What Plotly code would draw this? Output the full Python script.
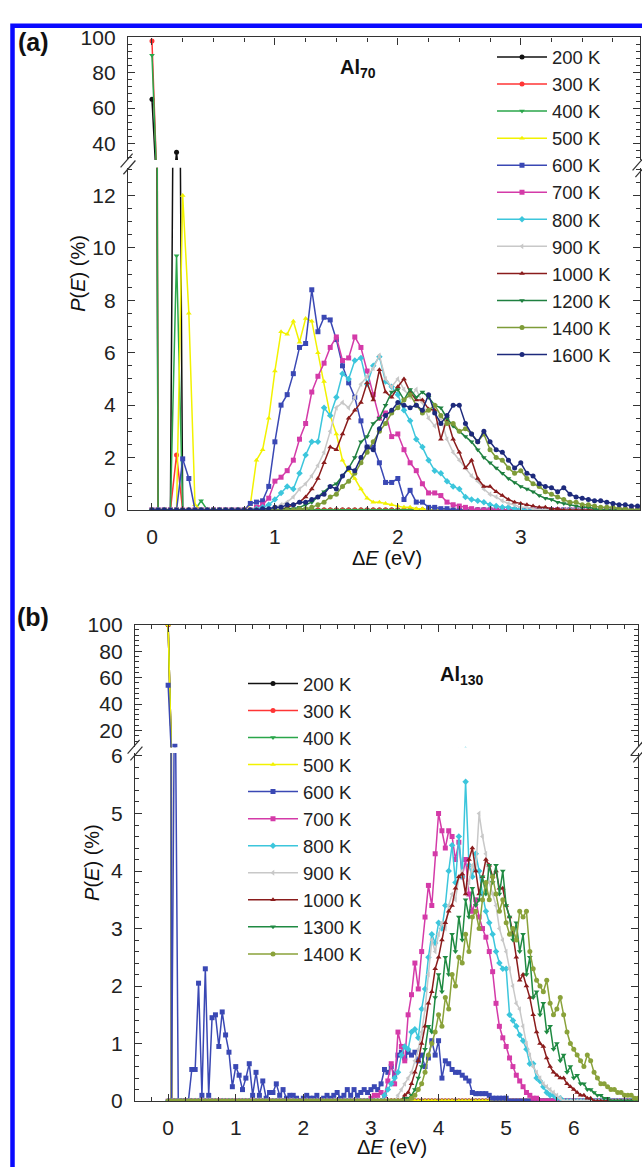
import plotly.graph_objects as go

W, H = 642, 1167

# ---------------- data: panel (a) Al70, dE grid 0..4 eV step 0.05 ----------------
a_x = [round(i * 0.05, 2) for i in range(81)]
a_labels = ["200 K", "300 K", "400 K", "500 K", "600 K", "700 K", "800 K",
            "900 K", "1000 K", "1200 K", "1400 K", "1600 K"]
# (start index, values) pieces; all other grid points are 0
a_200 = [(0, [65, 0, 0, 0, 35])]
a_300 = [(0, [98, 0, 0, 0, 2.1])]
a_400 = [(0, [90, 0, 0, 0, 9.7, 0, 0, 0, 0.35])]
a_500 = [(5, [12.0, 7.5, 0.2]),
         (16, [0.2, 1.9, 2.3, 3.5, 5.3, 6.8, 6.7, 7.2, 6.4, 7.3, 7.2, 6.0, 4.9, 3.6, 2.9,
               1.9, 1.5, 1.2, 0.8, 0.45, 0.3, 0.3, 0.25, 0.2, 0.15, 0.1, 0.1, 0.05, 0.05])]
a_600 = [(5, [1.95, 1.2]),
         (16, [0.25, 0.3, 0.35, 0.9, 2.6, 4.0, 4.4, 5.2, 6.2, 6.35, 8.4, 6.8, 7.35, 7.25,
               6.5, 5.5, 4.85, 4.3, 3.4, 2.4, 2.4, 1.8, 1.05, 1.05, 1.2, 0.4, 0.75, 0.3,
               0.3, 0.1, 0.1, 0.05, 0.05])]
a_700 = [(17, [0.1, 0.2, 0.45, 1.1, 1.25, 1.5, 1.9, 2.7, 3.3, 4.5, 5.1, 5.6, 6.2, 6.6,
               5.7, 5.8, 6.6, 6.2, 5.3, 4.4, 3.5, 3.7, 2.8, 2.9, 2.3, 1.8, 1.5, 1.0, 0.65,
               0.65, 0.55, 0.3, 0.2, 0.15, 0.1, 0.05])]
a_800 = [(17, [0.05, 0.1, 0.2, 0.4, 0.65, 0.9, 0.8, 1.4, 2.1, 2.6, 2.6, 3.9, 3.6, 4.3,
               5.2, 5.0, 5.7, 5.8, 4.8, 5.5, 5.85, 4.9, 4.7, 4.4, 3.8, 3.4, 2.7, 2.4, 1.9,
               1.5, 1.4, 1.1, 0.9, 0.8, 0.5, 0.4, 0.35, 0.3, 0.2, 0.15, 0.1, 0.1, 0.05,
               0.05])]
a_900 = [(20, [0.1, 0.2, 0.3, 0.5, 0.8, 1.0, 1.3, 1.7, 2.2, 3.0, 3.9, 4.1, 3.9, 4.3, 4.8,
               5.1, 5.4, 5.9, 5.0, 4.7, 5.0, 4.6, 4.3, 4.6, 4.1, 3.5, 3.2, 3.5, 2.7, 2.2,
               1.9, 1.6, 1.3, 1.1, 0.8, 0.6, 0.5, 0.35, 0.25, 0.2, 0.1, 0.1, 0.05])]
a_1000 = [(22, [0.1, 0.2, 0.3, 0.5, 0.8, 1.2, 1.8, 2.4, 2.3, 2.9, 3.5, 3.8, 4.1, 4.85,
                4.2, 5.35, 4.5, 4.3, 4.7, 5.0, 4.5, 4.2, 4.2, 3.85, 3.8, 2.7, 3.5, 2.7,
                2.2, 1.6, 1.9, 1.2, 0.9, 0.9, 0.7, 0.55, 0.4, 0.3, 0.25, 0.2, 0.15, 0.1,
                0.1, 0.05, 0.05])]
a_1200 = [(22, [0.05, 0.05, 0.1, 0.2, 0.3, 0.5, 0.7, 0.9, 1.0, 1.3, 1.6, 2.0, 2.6, 2.8,
                3.3, 3.5, 4.0, 4.5, 4.6, 4.2, 4.6, 4.3, 4.5, 4.3, 4.0, 3.9, 3.5, 3.2, 3.0,
                2.8, 2.6, 2.3, 2.0, 1.8, 1.6, 1.4, 1.2, 1.05, 0.9, 0.8, 0.7, 0.55, 0.45,
                0.4, 0.3, 0.25, 0.2, 0.15, 0.1, 0.1, 0.05])]
a_1400 = [(24, [0.05, 0.05, 0.1, 0.2, 0.3, 0.5, 0.6, 0.9, 1.1, 1.4, 1.8, 2.2, 2.6, 3.0,
                3.3, 3.7, 3.9, 4.2, 4.4, 4.0, 3.7, 3.8, 4.0, 3.6, 3.3, 3.3, 3.0, 3.1, 2.9,
                2.6, 2.9, 2.3, 2.0, 1.9, 1.6, 1.4, 1.5, 1.2, 1.0, 0.9, 0.7, 0.6, 0.5, 0.4,
                0.3, 0.3, 0.2, 0.2, 0.15, 0.1, 0.1, 0.1, 0.05, 0.05])]
a_1600 = [(18, [0.05, 0.05, 0.1, 0.1, 0.2, 0.2, 0.3, 0.3, 0.4, 0.5, 0.6, 0.9, 0.8, 1.3,
                1.6, 1.5, 2.0, 2.4, 2.3, 3.1, 3.6, 3.8, 4.1, 4.0, 3.9, 4.0, 3.8, 4.4, 3.7,
                3.3, 3.6, 4.0, 4.0, 3.3, 2.9, 2.6, 3.0, 2.6, 2.3, 2.2, 1.9, 1.6, 1.8, 1.4,
                1.3, 1.0, 0.9, 0.85, 0.7, 0.85, 0.6, 0.5, 0.45, 0.4, 0.35, 0.35, 0.3, 0.25,
                0.2, 0.2, 0.15, 0.15, 0.1])]
a_series = [a_200, a_300, a_400, a_500, a_600, a_700, a_800, a_900, a_1000, a_1200,
            a_1400, a_1600]

# ---------------- data: panel (b) Al130, dE grid 0..7 eV step 0.05 ----------------
b_x = [round(i * 0.05, 2) for i in range(141)]
b_labels = ["200 K", "300 K", "400 K", "500 K", "600 K", "700 K", "800 K",
            "900 K", "1000 K", "1300 K", "1400 K"]
b_200 = [(0, [100])]
b_300 = [(0, [100])]
b_400 = [(0, [100])]
b_500 = [(0, [100])]
b_600 = [(0, [54.3, 0, 8.1]),
         (7, [0.55, 0.55, 2.05, 0.1, 2.3, 0.1, 1.45, 1.5, 0.95, 1.55, 1.15, 0.85, 0.25,
              0.6, 0.45, 0.2, 0.4, 0.65, 0.1, 0.5, 0.1, 0.35, 0.05, 0.15, 0.15, 0.3, 0.1,
              0.2, 0.05, 0.1, 0.1, 0.05, 0.0, 0.05, 0.1, 0.05, 0.05, 0.1, 0.0, 0.05, 0.1,
              0.05, 0.1, 0.15, 0.05, 0.1, 0.2, 0.1, 0.2, 0.1, 0.15, 0.2, 0.15, 0.2, 0.25,
              0.2, 0.3, 0.55, 0.5, 0.6, 0.45, 0.8, 0.85, 0.75, 0.85, 0.8, 0.85, 0.7, 0.8,
              0.6, 0.75, 1.05, 0.8, 1.05, 0.4, 0.7, 0.65, 0.55, 0.5, 0.5, 0.45, 0.4, 0.35,
              0.15, 0.13, 0.13, 0.13, 0.13, 0.1, 0.05, 0.05, 0.05, 0.05, 0.05])]
b_700 = [(60, [0.05, 0.1, 0.1, 0.15, 0.1, 0.35, 0.65, 0.3, 1.2, 0.95, 0.7, 1.5, 1.85,
               2.4, 1.95, 2.6, 3.2, 3.75, 3.4, 4.3, 5.0, 4.7, 4.4, 4.7, 4.6, 4.2, 4.5, 3.9,
               4.2, 3.6, 3.3, 3.5, 3.2, 3.0, 2.85, 2.6, 2.25, 1.7, 1.3, 1.1, 0.95, 0.75,
               0.6, 0.45, 0.35, 0.25, 0.15, 0.1, 0.05, 0.05])]
b_800 = [(64, [0.1, 0.2, 0.3, 0.4, 0.5, 0.8, 0.95, 0.9, 1.2, 1.25, 1.1, 1.6, 1.95, 2.5,
               2.9, 2.75, 3.1, 3.0, 3.4, 4.0, 4.45, 3.8, 4.6, 3.9, 5.55, 4.1, 3.9, 4.3,
               4.0, 3.6, 3.3, 3.1, 2.9, 2.6, 2.4, 2.3, 2.3, 1.5, 1.4, 1.3, 1.15, 1.05, 0.9,
               0.65, 0.65, 0.4, 0.35, 0.25, 0.15, 0.1, 0.1, 0.05, 0.05])]
b_900 = [(68, [0.1, 0.2, 0.3, 0.4, 0.5, 0.7, 0.9, 1.2, 1.6, 2.2, 2.8, 2.6, 2.9, 3.1, 3.0,
               3.4, 3.6, 3.5, 3.9, 4.0, 3.6, 3.8, 4.1, 4.0, 5.0, 4.6, 4.3, 3.8, 3.6, 3.4,
               3.0, 2.8, 2.6, 2.3, 2.0, 1.7, 1.6, 1.3, 1.0, 0.8, 0.6, 0.5, 0.4, 0.3, 0.25,
               0.2, 0.15, 0.1, 0.05])]
b_1000 = [(70, [0.1, 0.15, 0.3, 0.5, 0.7, 1.0, 1.3, 1.7, 1.9, 2.3, 2.5, 2.8, 3.1, 3.3,
                3.4, 3.7, 3.9, 3.95, 3.6, 4.2, 4.4, 4.0, 3.6, 3.9, 4.2, 4.1, 3.9, 4.0, 3.7,
                3.7, 3.4, 3.2, 2.9, 2.5, 2.1, 2.2, 2.0, 1.8, 1.5, 1.2, 1.0, 0.95, 0.75,
                0.6, 0.5, 0.45, 0.4, 0.4, 0.3, 0.25, 0.2, 0.15, 0.1, 0.1, 0.05, 0.05])]
b_1300 = [(70, [0.05, 0.05, 0.1, 0.2, 0.4, 0.6, 0.9, 1.3, 1.2, 1.8, 2.2, 1.9, 2.5, 2.2,
                2.9, 2.6, 3.2, 2.8, 3.5, 3.2, 3.7, 3.4, 3.5, 3.9, 3.6, 4.1, 3.8, 4.1, 3.6,
                4.0, 3.4, 3.2, 2.8, 3.1, 2.6, 2.9, 2.2, 2.5, 1.8, 1.9, 1.5, 1.7, 1.2, 1.3,
                0.9, 1.0, 0.7, 0.8, 0.5, 0.6, 0.4, 0.45, 0.3, 0.3, 0.2, 0.2, 0.15, 0.1,
                0.1, 0.05, 0.05])]
b_1400 = [(72, [0.05, 0.1, 0.2, 0.3, 0.5, 0.8, 1.0, 1.2, 1.5, 1.3, 1.8, 1.6, 2.2, 2.0,
                2.5, 2.4, 2.9, 2.6, 3.2, 3.3, 3.0, 3.5, 3.8, 3.5, 3.9, 3.6, 3.3, 3.5, 3.1,
                2.9, 3.0, 2.8, 3.3, 3.2, 3.3, 2.6, 2.3, 2.1, 2.0, 1.9, 2.1, 1.7, 1.5, 1.6,
                1.8, 1.5, 1.2, 1.0, 0.9, 0.8, 0.7, 0.6, 0.8, 0.7, 0.5, 0.4, 0.3, 0.3, 0.25,
                0.2, 0.2, 0.15, 0.15, 0.1, 0.1, 0.1, 0.05, 0.05, 0.05])]
b_series = [b_200, b_300, b_400, b_500, b_600, b_700, b_800, b_900, b_1000, b_1300,
            b_1400]

# ---------------- styles ----------------
a_colors = ["#111111", "#ff3535", "#2aa64a", "#f2f200", "#3a48b4", "#d43aa8", "#3cc6dc",
            "#c8c8c8", "#8a1c1c", "#1f8040", "#7e9c38", "#1d2a7c"]
a_symbols = ["circle", "circle", "triangle-down", "triangle-up", "square", "square",
             "diamond", "triangle-left", "triangle-up", "triangle-down", "circle", "circle"]
b_colors = ["#111111", "#ff3535", "#2aa64a", "#f2f200", "#3a48b4", "#d43aa8", "#3cc6dc",
            "#c8c8c8", "#8a1c1c", "#1f8a42", "#8aa23a"]
b_symbols = ["circle", "circle", "triangle-down", "triangle-up", "square", "square",
             "diamond", "triangle-left", "triangle-up", "triangle-down", "circle"]


def build(n, pieces):
    vals = [0.0] * n
    for start, seg in pieces:
        for k, v in enumerate(seg):
            if start + k < n:
                vals[start + k] = v
    return vals


def px(xp):
    return xp / W


def py(yp):
    return 1 - yp / H


FONT = "Liberation Sans, Arial, sans-serif"
fig = go.Figure()

for lab, pieces, col, sym in zip(a_labels, a_series, a_colors, a_symbols):
    yv = build(len(a_x), pieces)
    common = dict(x=a_x, y=yv, mode="lines+markers", name=lab,
                  line=dict(color=col, width=1.5),
                  marker=dict(color=col, symbol=sym, size=5))
    fig.add_trace(go.Scatter(xaxis="x", yaxis="y", legend="legend", **common))
    fig.add_trace(go.Scatter(xaxis="x2", yaxis="y2", showlegend=False, **common))

for lab, pieces, col, sym in zip(b_labels, b_series, b_colors, b_symbols):
    yv = build(len(b_x), pieces)
    common = dict(x=b_x, y=yv, mode="lines+markers", name=lab,
                  line=dict(color=col, width=1.5),
                  marker=dict(color=col, symbol=sym, size=5))
    fig.add_trace(go.Scatter(xaxis="x3", yaxis="y3", legend="legend2", **common))
    fig.add_trace(go.Scatter(xaxis="x4", yaxis="y4", showlegend=False, **common))

axis_base = dict(showline=True, linecolor="#333333", linewidth=1.3, ticks="inside",
                 tickcolor="#333333", ticklen=7, tickwidth=1.3, showgrid=False,
                 zeroline=False, tickfont=dict(family=FONT, size=21, color="#222222"))


def minor(d):
    return dict(dtick=d, ticks="inside", ticklen=4, tickcolor="#333333", tickwidth=1,
                showgrid=False)


a_xdom = [px(128), px(640)]
b_xdom = [px(135), px(638)]
a_xr = [-0.195, 3.97]
b_xr = [-0.49, 6.95]

fig.update_layout(
    width=W, height=H, autosize=False,
    margin=dict(l=0, r=0, t=0, b=0),
    paper_bgcolor="white", plot_bgcolor="white",
    showlegend=True,
    font=dict(family=FONT, color="#222222"),
    xaxis=dict(axis_base, domain=a_xdom, range=a_xr, anchor="y", dtick=1, tick0=0,
               minor=minor(0.25), ticklabelstandoff=8),
    yaxis=dict(axis_base, domain=[py(508), py(159)], range=[0, 13.05], anchor="x",
               dtick=2, tick0=0, minor=minor(0.5), mirror="ticks", ticklabelstandoff=7),
    xaxis2=dict(axis_base, domain=a_xdom, range=a_xr, anchor="y2", side="top",
                showticklabels=False, dtick=1, tick0=0, minor=minor(0.25)),
    yaxis2=dict(axis_base, domain=[py(151), py(26)], range=[30.6, 100], anchor="x2",
                dtick=20, tick0=0, minor=minor(4), mirror="ticks", ticklabelstandoff=7),
    xaxis3=dict(axis_base, domain=b_xdom, range=b_xr, anchor="y3", dtick=1, tick0=0,
                minor=minor(0.25), ticklabelstandoff=8),
    yaxis3=dict(axis_base, domain=[py(1111), py(756)], range=[0, 6.05], anchor="x3",
                dtick=1, tick0=0, minor=minor(0.2), mirror="ticks", ticklabelstandoff=7),
    xaxis4=dict(axis_base, domain=b_xdom, range=b_xr, anchor="y4", side="top",
                showticklabels=False, dtick=1, tick0=0, minor=minor(0.25)),
    yaxis4=dict(axis_base, domain=[py(750), py(625)], range=[7.4, 100], anchor="x4",
                dtick=20, tick0=0, minor=minor(4), mirror="ticks", ticklabelstandoff=7),
    legend=dict(x=px(492), y=py(27), xanchor="left", yanchor="top",
                bgcolor="rgba(0,0,0,0)", font=dict(family=FONT, size=18.5, color="#222222"),
                itemwidth=50, tracegroupgap=0),
    legend2=dict(x=px(243), y=py(666), xanchor="left", yanchor="top",
                 bgcolor="rgba(0,0,0,0)", font=dict(family=FONT, size=18.5, color="#222222"),
                 itemwidth=50, tracegroupgap=0),
)

ann = []


def add_text(x, y, text, size, angle=0):
    ann.append(dict(xref="paper", yref="paper", x=px(x), y=py(y), text=text,
                    showarrow=False, textangle=angle, xanchor="center", yanchor="middle",
                    font=dict(family=FONT, size=size, color="#111111")))


add_text(33, 31, "<b>(a)</b>", 25)
add_text(33, 617, "<b>(b)</b>", 25)
add_text(358, 58, "<b>Al<sub>70</sub></b>", 20)
add_text(462, 677, "<b>Al<sub>130</sub></b>", 20)
add_text(78, 267, "<i>P</i>(<i>E</i>) (%)", 20, -90)
add_text(92, 867, "<i>P</i>(<i>E</i>) (%)", 20, -90)
add_text(387, 557, "Δ<i>E</i> (eV)", 20)
add_text(392, 1158, "Δ<i>E</i> (eV)", 20)
fig.update_layout(annotations=ann)

shapes = []
# blue frame of the figure panel
shapes.append(dict(type="rect", xref="paper", yref="paper", x0=px(12.5), x1=1.05,
                   y0=-0.05, y1=py(14), line=dict(color="#0a0aff", width=4.5),
                   fillcolor="rgba(0,0,0,0)", layer="above"))


def brk(xc, yc):
    for off in (-3.5, 3.5):
        shapes.append(dict(type="line", xref="paper", yref="paper",
                           x0=px(xc - 6 + off * 0.4), y0=py(yc + 7 + off),
                           x1=px(xc + 6 + off * 0.4), y1=py(yc - 7 + off),
                           line=dict(color="#333333", width=1.2)))


brk(128, 155)
brk(640, 158)
brk(135, 753)
brk(638, 755)
fig.update_layout(shapes=shapes)

fig.write_html("out.html")
